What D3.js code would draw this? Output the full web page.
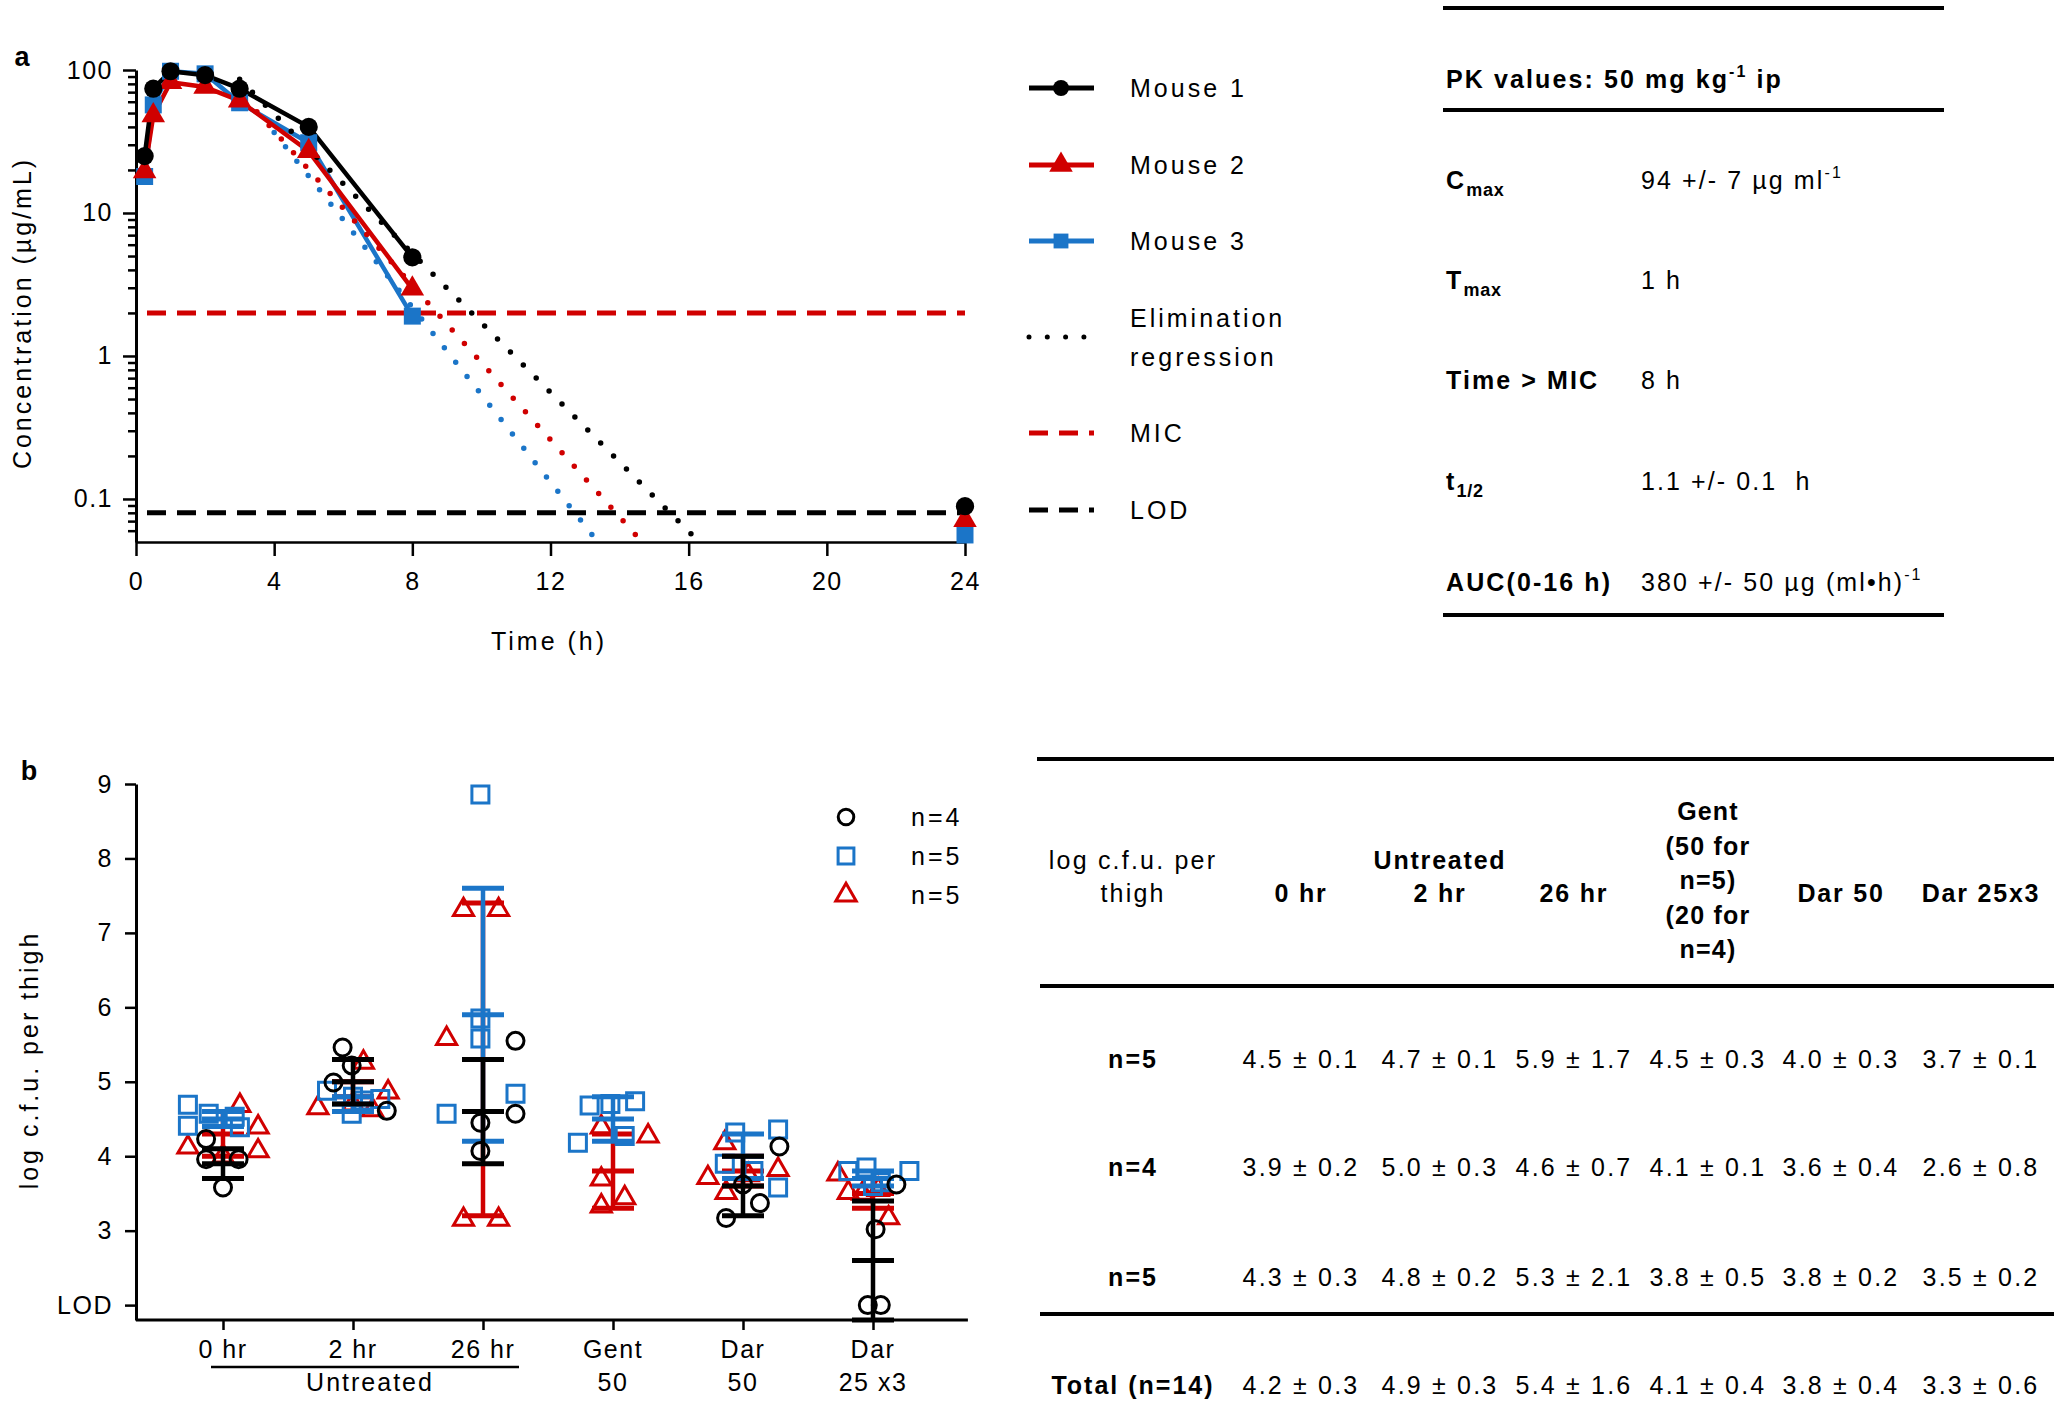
<!DOCTYPE html>
<html><head><meta charset="utf-8">
<script src="https://cdn.jsdelivr.net/npm/d3@7"></script>
<style>
body{margin:0;background:#fff;}
svg text{font-family:"Liberation Sans",Arial,sans-serif;white-space:pre;}
</style></head><body>
<svg id="c" width="2060" height="1411"></svg>
<script>
// ================= DATA: panel a =================
const timesA = [0.25, 0.5, 1, 2, 3, 5, 8];
const mouse1 = [25, 74, 98, 92, 74, 40, 4.9];
const mouse2 = [19.5, 48, 82, 76, 61, 27, 2.95];
const mouse3 = [18, 57, 98, 94, 59, 31, 1.9];
const lateTime = 24;
const late1 = 0.089, late2 = 0.071, late3 = 0.056;
// elimination regressions: [start, end] in (time, concentration)
const elim1T = [3, 16.3],  elim1C = [86, 0.05];
const elim2T = [3.5, 14.65], elim2C = [51, 0.05];
const elim3T = [4, 13.37], elim3C = [36.6, 0.05];
const micValue = 2;
const lodValue = 0.08;
const xTicksA = [0, 4, 8, 12, 16, 20, 24];
const yMajorA = [0.1, 1, 10, 100];
const yMinorA = [0.06,0.07,0.08,0.09,0.2,0.3,0.4,0.5,0.6,0.7,0.8,0.9,2,3,4,5,6,7,8,9,20,30,40,50,60,70,80,90];
const legendA = ["Mouse 1","Mouse 2","Mouse 3","Elimination|regression","MIC","LOD"];

// PK table
const pkTitle = ["PK values: 50 mg kg", "-1", " ip"];
const pkLabelMain = ["C", "T", "Time > MIC", "t", "AUC(0-16 h)"];
const pkLabelSub  = ["max", "max", "", "1/2", ""];
const pkValueMain = ["94 +/- 7 µg ml", "1 h", "8 h", "1.1 +/- 0.1  h", "380 +/- 50 µg (ml•h)"];
const pkValueSup  = ["-1", "", "", "", "-1"];

// ================= DATA: panel b =================
const catsB = ["0 hr", "2 hr", "26 hr", "Gent 50", "Dar 50", "Dar 25 x3"];
const catLine1 = ["0 hr", "2 hr", "26 hr", "Gent", "Dar", "Dar"];
const catLine2 = ["", "", "", "50", "50", "25 x3"];
const yTicksB = [2, 3, 4, 5, 6, 7, 8, 9];
// individual mice (log c.f.u. per thigh) and horizontal jitter (fraction of category step)
const n4Values = [[4.23,3.96,3.96,3.58],[5.46,5.22,4.99,4.61],[5.55,4.57,4.45,4.07],[],[4.13,3.62,3.37,3.17],[3.62,3.02,2.0,2.0]];
const n4Jitter = [[-0.13,-0.13,0.12,0],[-0.08,-0.01,-0.15,0.26],[0.25,0.25,-0.02,-0.02],[],[0.28,0,0.13,-0.13],[0.18,0.02,-0.04,0.06]];
const n5aValues = [[4.69,4.41,4.57,4.53,4.39],[4.88,4.8,4.75,4.77,4.57],[8.86,5.85,5.58,4.84,4.57],[4.68,4.74,4.7,4.27,4.18],[4.36,4.32,3.9,3.8,3.58],[3.8,3.85,3.8,3.65,3.6]];
const n5aJitter = [[-0.27,-0.27,-0.11,0.09,0.13],[-0.2,0,0.08,0.21,-0.01],[-0.02,-0.02,-0.02,0.25,-0.28],[-0.18,0.17,-0.02,0.09,-0.27],[0.27,-0.06,-0.14,0.08,0.27],[-0.19,-0.05,0.28,0.06,0]];
const n5bValues = [[4.68,4.39,4.12,4.07,4.0],[5.26,4.86,4.65,4.7,4.62],[7.31,7.31,5.58,3.15,3.15],[4.39,4.27,3.69,3.44,3.33],[4.18,3.82,3.71,3.51,3.75],[3.76,3.51,3.17,3.55,3.5]];
const n5bJitter = [[0.13,0.27,-0.27,0.27,0],[0.08,0.27,-0.27,0,0.15],[-0.15,0.12,-0.28,-0.15,0.12],[-0.09,0.27,-0.09,0.09,-0.09],[-0.14,0.27,-0.27,-0.13,0.04],[-0.27,-0.19,0.12,0.04,-0.08]];
// table (mean ± SD)
const n5aMean = [4.5,4.7,5.9,4.5,4.0,3.7], n5aSD = [0.1,0.1,1.7,0.3,0.3,0.1];
const n4Mean  = [3.9,5.0,4.6,4.1,3.6,2.6], n4SD  = [0.2,0.3,0.7,0.1,0.4,0.8];
const n5bMean = [4.3,4.8,5.3,3.8,3.8,3.5], n5bSD = [0.3,0.2,2.1,0.5,0.2,0.2];
const totMean = [4.2,4.9,5.4,4.1,3.8,3.3], totSD = [0.3,0.3,1.6,0.4,0.4,0.6];
const n4Plotted = [true,true,true,false,true,true];
const rowLabels = ["n=5","n=4","n=5","Total (n=14)"];
const headerCols = [["log c.f.u. per","thigh"],["0 hr"],["Untreated","2 hr"],["26 hr"],["Gent","(50 for","n=5)","(20 for","n=4)"],["Dar 50"],["Dar 25x3"]];
const legendB = ["n=4","n=5","n=5"];

// ================= DRAW =================
const BLACK = "#000", RED = "#d00000", BLUE = "#1b75c8";
const FS = 25, LS = "2.4px";
const svg = d3.select("#c");
svg.append("rect").attr("width",2060).attr("height",1411).attr("fill","#fff");

function T(g, x, y, s, o = {}) {
  return g.append("text").attr("x", x).attr("y", y).text(s)
    .attr("font-size", o.fs || FS).attr("letter-spacing", o.ls || LS)
    .attr("font-weight", o.bold ? "bold" : "normal")
    .attr("text-anchor", o.anchor || "start").attr("fill", o.fill || "#000")
    .attr("dominant-baseline", o.db || "central");
}

// ---------- Panel a ----------
const xA = d3.scaleLinear().domain([0, 24]).range([136, 965]);
const yA = d3.scaleLog().domain([0.05, 100]).range([542, 70]);
const gA = svg.append("g");
T(gA, 22, 57, "a", {bold: true, fs: 27, ls: "0px", anchor: "middle"});

const yAxA = gA.append("g").attr("transform", "translate(136,0)")
  .call(d3.axisLeft(yA).tickValues(yMajorA.concat(yMinorA)).tickSize(13).tickSizeOuter(0)
    .tickPadding(10).tickFormat(d => yMajorA.includes(d) ? String(d) : ""));
yAxA.selectAll(".tick line").attr("stroke-width", 2.5)
  .attr("x2", d => yMajorA.includes(d) ? -13 : -8);
yAxA.select(".domain").attr("stroke-width", 3);
yAxA.selectAll("text").attr("font-size", FS).attr("letter-spacing", "1.5px").attr("fill","#000");

const xAxA = gA.append("g").attr("transform", "translate(0,542)")
  .call(d3.axisBottom(xA).tickValues(xTicksA).tickSize(14).tickSizeOuter(0).tickPadding(16));
xAxA.selectAll(".tick line").attr("stroke-width", 2.5);
xAxA.select(".domain").attr("stroke-width", 2.5);
xAxA.selectAll("text").attr("font-size", FS).attr("letter-spacing", "1.5px").attr("fill","#000");

T(gA, 549, 641, "Time (h)", {anchor: "middle", ls: "3px"});
T(gA, 0, 0, "Concentration (µg/mL)", {anchor: "middle", ls: "3px"})
  .attr("transform", "translate(22,313) rotate(-90)");

// reference lines
const refX0 = xA.range()[0] + 11, refX1 = xA.range()[1];
gA.append("line").attr("x1", refX0).attr("x2", refX1).attr("y1", yA(micValue)).attr("y2", yA(micValue))
  .attr("stroke", RED).attr("stroke-width", 5).attr("stroke-dasharray", "19 11");
gA.append("line").attr("x1", refX0).attr("x2", refX1).attr("y1", yA(lodValue)).attr("y2", yA(lodValue))
  .attr("stroke", BLACK).attr("stroke-width", 5).attr("stroke-dasharray", "19 11");

const lineA = d3.line().x(d => xA(d[0])).y(d => yA(d[1]));
const series = [
  {v: mouse3, late: late3, c: BLUE, sym: d3.symbolSquare, size: 289, e: [elim3T, elim3C]},
  {v: mouse2, late: late2, c: RED, sym: d3.symbolTriangle, size: 240, e: [elim2T, elim2C]},
  {v: mouse1, late: late1, c: BLACK, sym: d3.symbolCircle, size: 260, e: [elim1T, elim1C]},
];
series.forEach(s => {
  gA.append("path").attr("d", lineA(timesA.map((t, i) => [t, s.v[i]])))
    .attr("fill", "none").attr("stroke", s.c).attr("stroke-width", 4.5).attr("stroke-linejoin", "round");
});
series.forEach(s => {
  gA.append("path").attr("d", lineA([[s.e[0][0], s.e[1][0]], [s.e[0][1], s.e[1][1]]]))
    .attr("fill", "none").attr("stroke", s.c).attr("stroke-width", 5.5)
    .attr("stroke-linecap", "round").attr("stroke-dasharray", "0 18.3");
});
series.forEach(s => {
  const pts = timesA.map((t, i) => [t, s.v[i]]).concat([[lateTime, s.late]]);
  gA.selectAll(null).data(pts).enter().append("path")
    .attr("d", d3.symbol().type(s.sym).size(s.size)())
    .attr("transform", d => `translate(${xA(d[0])},${yA(d[1])})`)
    .attr("fill", s.c);
});

// legend a
const legAy = [88, 165, 241, 337, 433, 510];
const legX0 = 1029, legX1 = 1094, legXm = 1061, legTx = 1130;
const gL = gA.append("g");
[[BLACK, d3.symbolCircle, 200], [RED, d3.symbolTriangle, 240], [BLUE, d3.symbolSquare, 220]].forEach((m, i) => {
  gL.append("line").attr("x1", legX0).attr("x2", legX1).attr("y1", legAy[i]).attr("y2", legAy[i])
    .attr("stroke", m[0]).attr("stroke-width", 5);
  gL.append("path").attr("d", d3.symbol().type(m[1]).size(m[2])())
    .attr("transform", `translate(${legXm},${legAy[i]})`).attr("fill", m[0]);
  T(gL, legTx, legAy[i], legendA[i], {ls: "3px"});
});
gL.append("line").attr("x1", legX0).attr("x2", legX1 - 8).attr("y1", legAy[3]).attr("y2", legAy[3])
  .attr("stroke", BLACK).attr("stroke-width", 5).attr("stroke-linecap", "round").attr("stroke-dasharray", "0 18.3");
const el = legendA[3].split("|");
T(gL, legTx, 318, el[0], {ls: "3px"});
T(gL, legTx, 357, el[1], {ls: "3px"});
[[RED, 4], [BLACK, 5]].forEach(m => {
  gL.append("line").attr("x1", legX0).attr("x2", legX1).attr("y1", legAy[m[1]]).attr("y2", legAy[m[1]])
    .attr("stroke", m[0]).attr("stroke-width", 5).attr("stroke-dasharray", "19 11");
  T(gL, legTx, legAy[m[1]], legendA[m[1]], {ls: "3px"});
});

// PK table
const gP = svg.append("g");
[8, 110, 615].forEach(y => gP.append("line").attr("x1", 1443).attr("x2", 1944).attr("y1", y).attr("y2", y)
  .attr("stroke", "#000").attr("stroke-width", 4));
const tt = gP.append("text").attr("x", 1446).attr("y", 88).attr("font-size", FS).attr("font-weight", "bold")
  .attr("letter-spacing", "2.1px");
tt.append("tspan").text(pkTitle[0]);
tt.append("tspan").text(pkTitle[1]).attr("font-size", 16).attr("dy", -11);
tt.append("tspan").text(pkTitle[2]).attr("dy", 11);
const pkY = [189, 289, 389, 490, 591];
pkLabelMain.forEach((lab, i) => {
  const t = gP.append("text").attr("x", 1446).attr("y", pkY[i]).attr("font-size", FS).attr("font-weight", "bold")
    .attr("letter-spacing", "2.1px");
  t.append("tspan").text(lab);
  if (pkLabelSub[i]) t.append("tspan").text(pkLabelSub[i]).attr("font-size", 18).attr("dy", 7).attr("letter-spacing", "0.8px");
  const v = gP.append("text").attr("x", 1641).attr("y", pkY[i]).attr("font-size", FS).attr("letter-spacing", "2.1px");
  v.append("tspan").text(pkValueMain[i]);
  if (pkValueSup[i]) v.append("tspan").text(pkValueSup[i]).attr("font-size", 16).attr("dy", -11);
});

// ---------- Panel b ----------
const xB = d3.scalePoint().domain(catsB).range([223, 873]);
const yB = d3.scaleLinear().domain([1.8, 9]).range([1320, 784]);
const stepB = xB.step();
const gB = svg.append("g");
T(gB, 29, 771, "b", {bold: true, fs: 27, ls: "0px", anchor: "middle"});

const yAxB = gB.append("g").attr("transform", "translate(136,0)")
  .call(d3.axisLeft(yB).tickValues(yTicksB).tickSize(11).tickSizeOuter(0).tickPadding(12)
    .tickFormat(d => d === 2 ? "LOD" : String(d)));
yAxB.selectAll(".tick line").attr("stroke-width", 2.5);
yAxB.select(".domain").attr("stroke-width", 3);
yAxB.selectAll("text").attr("font-size", FS).attr("letter-spacing", "1.5px").attr("fill","#000");

const xAxB = gB.append("g").attr("transform", "translate(0,1320)")
  .call(d3.axisBottom(xB).tickSize(10).tickSizeOuter(0).tickFormat(""));
xAxB.select(".domain").remove();
xAxB.selectAll(".tick line").attr("stroke-width", 2.5);
gB.append("line").attr("x1", xB(catsB[0]) - 0.67 * stepB).attr("x2", xB(catsB[5]) + 0.73 * stepB)
  .attr("y1", 1320).attr("y2", 1320).attr("stroke", "#000").attr("stroke-width", 3);
catsB.forEach((c, i) => {
  T(gB, xB(c), 1349, catLine1[i], {anchor: "middle", ls: "1.5px"});
  if (catLine2[i]) T(gB, xB(c), 1382, catLine2[i], {anchor: "middle", ls: "1.5px"});
});
gB.append("line").attr("x1", xB(catsB[0]) - 12).attr("x2", xB(catsB[2]) + 36).attr("y1", 1367).attr("y2", 1367)
  .attr("stroke", "#000").attr("stroke-width", 2.5);
T(gB, (xB(catsB[0]) + xB(catsB[2])) / 2 + 17, 1382, "Untreated", {anchor: "middle", ls: "2px"});
T(gB, 0, 0, "log c.f.u. per thigh", {anchor: "middle", ls: "3px"})
  .attr("transform", "translate(29,1060) rotate(-90)");

const groups = [
  {vals: n5bValues, jit: n5bJitter, mean: n5bMean, sd: n5bSD, c: RED, sym: d3.symbolTriangle, size: 175, show: [1,1,1,1,1,1]},
  {vals: n5aValues, jit: n5aJitter, mean: n5aMean, sd: n5aSD, c: BLUE, sym: d3.symbolSquare, size: 289, show: [1,1,1,1,1,1]},
  {vals: n4Values, jit: n4Jitter, mean: n4Mean, sd: n4SD, c: BLACK, sym: d3.symbolCircle, size: 227, show: n4Plotted},
];
const capW = 21;
groups.forEach(g => {
  catsB.forEach((c, i) => {
    const pts = g.vals[i].map((v, j) => [xB(c) + g.jit[i][j] * stepB, yB(v)]);
    gB.selectAll(null).data(pts).enter().append("path")
      .attr("d", d3.symbol().type(g.sym).size(g.size)())
      .attr("transform", d => `translate(${d[0]},${d[1]})`)
      .attr("fill", "none").attr("stroke", g.c).attr("stroke-width", 3);
  });
  catsB.forEach((c, i) => {
    if (!g.show[i]) return;
    const x = xB(c), lo = Math.max(g.mean[i] - g.sd[i], 1.8), hi = g.mean[i] + g.sd[i];
    gB.append("line").attr("x1", x).attr("x2", x).attr("y1", yB(lo)).attr("y2", yB(hi))
      .attr("stroke", g.c).attr("stroke-width", 4.5);
    [lo, g.mean[i], hi].forEach(v => gB.append("line").attr("x1", x - capW).attr("x2", x + capW)
      .attr("y1", yB(v)).attr("y2", yB(v)).attr("stroke", g.c).attr("stroke-width", 5));
  });
});

// legend b
const legBy = [817, 856, 895];
[[BLACK, d3.symbolCircle, 190], [BLUE, d3.symbolSquare, 250], [RED, d3.symbolTriangle, 180]].forEach((m, i) => {
  gB.append("path").attr("d", d3.symbol().type(m[1]).size(m[2])())
    .attr("transform", `translate(846,${legBy[i]})`).attr("fill", "none").attr("stroke", m[0]).attr("stroke-width", 3);
  T(gB, 911, legBy[i], legendB[i], {ls: "3px"});
});

// table b
const gT = svg.append("g");
[[1037, 759], [1040, 986], [1040, 1314]].forEach(d => gT.append("line").attr("x1", d[0]).attr("x2", 2054)
  .attr("y1", d[1]).attr("y2", d[1]).attr("stroke", "#000").attr("stroke-width", 4));
const colX = [1133, 1301, 1440, 1574, 1708, 1841, 1981];
headerCols.forEach((lines, ci) => {
  const bold = ci > 0;
  if (lines.length <= 2) {
    lines.forEach((s, k) => T(gT, colX[ci], 893 - (lines.length - 1 - k) * 33, s, {anchor: "middle", bold, ls: bold ? "1.8px" : "2.2px"}));
  } else {
    lines.forEach((s, k) => T(gT, colX[ci], 880 + (k - 2) * 34.5, s, {anchor: "middle", bold, ls: "1.2px"}));
  }
});
const rowY = [1059, 1167, 1277, 1385];
const fmt1 = d3.format(".1f");
[[n5aMean, n5aSD], [n4Mean, n4SD], [n5bMean, n5bSD], [totMean, totSD]].forEach((r, ri) => {
  T(gT, colX[0], rowY[ri], rowLabels[ri], {anchor: "middle", bold: true, ls: "2px"});
  r[0].forEach((m, k) => T(gT, colX[k + 1], rowY[ri], `${fmt1(m)} ± ${fmt1(r[1][k])}`, {anchor: "middle", ls: "2.2px"}));
});
</script>
</body></html>
